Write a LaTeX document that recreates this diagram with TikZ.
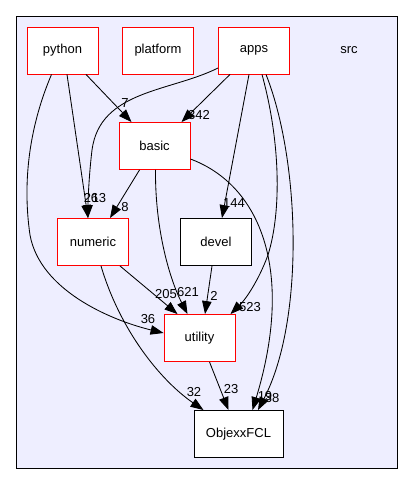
\documentclass[tikz,border=0pt]{standalone}
\usepackage{fontspec}
\setmainfont{Liberation Sans}
\usetikzlibrary{arrows.meta}
\begin{document}
\begin{tikzpicture}[x=1pt,y=-1pt,
  dir/.style={draw=red,fill=white,line width=0.9pt,minimum width=71pt,minimum height=47pt,inner sep=0pt,font=\fontsize{13}{15}\selectfont},
  leaf/.style={dir,draw=black},
  lbl/.style={inner sep=0pt,font=\fontsize{13}{15}\selectfont},
  edge/.style={line width=0.85pt,-{Triangle[length=13pt,width=9.5pt]}}]
\useasboundingbox (0,0) rectangle (413,485);
\draw[fill={rgb,255:red,238;green,238;blue,255},line width=1pt] (16,16) rectangle (397,468);
\node[lbl] (src) at (349,50) {src};
\node[dir] (python) at (62.5,50.5) {python};
\node[dir] (platform) at (158,50.5) {platform};
\node[dir] (apps) at (254,50.5) {apps};
\node[dir] (basic) at (154.5,146) {basic};
\node[dir] (numeric) at (93,242) {numeric};
\node[leaf] (devel) at (216,242) {devel};
\node[dir] (utility) at (199.5,338) {utility};
\node[leaf,minimum width=89pt] (obj) at (238.5,434) {ObjexxFCL};
% edges
\draw[edge] ([xshift=23.5pt]python.south) -- ([xshift=-23pt]basic.north);
\draw[edge] ([xshift=4.5pt]python.south) -- ([xshift=-5pt]numeric.north);
\draw[edge] ([xshift=-11pt]python.south) .. controls (30,125) and (22,180) .. (30,235) .. controls (40,290) and (110,320) .. ([yshift=5pt]utility.west);
\draw[edge] ([xshift=-24pt]apps.south) -- ([xshift=27pt]basic.north);
\draw[edge] ([yshift=-17.5pt]apps.west) .. controls (170,92) and (100,90) .. (92,150) .. controls (89,175) and (88,200) .. ([xshift=-5pt]numeric.north);
\draw[edge] ([xshift=-5pt]apps.south) -- ([xshift=6pt]devel.north);
\draw[edge] ([xshift=8pt]apps.south) .. controls (280,140) and (282,210) .. (268,255) .. controls (258,282) and (245,300) .. ([xshift=31pt]utility.north);
\draw[edge] ([xshift=12pt]apps.south) .. controls (300,160) and (305,320) .. ([xshift=19.5pt]obj.north);
\draw[edge] ([yshift=-13pt]basic.east) .. controls (260,185) and (295,270) .. ([xshift=14pt]obj.north);
\draw[edge] ([xshift=-15pt]basic.south) -- ([xshift=17pt]numeric.north);
\draw[edge] ([xshift=1pt]basic.south) .. controls (155,230) and (170,280) .. ([xshift=-12pt]utility.north);
\draw[edge] ([xshift=27pt]numeric.south) -- ([xshift=-22pt]utility.north);
\draw[edge] ([xshift=8pt]numeric.south) .. controls (120,330) and (160,380) .. ([xshift=-35pt]obj.north);
\draw[edge] ([xshift=-4pt]devel.south) -- ([xshift=5.5pt]utility.north);
\draw[edge] ([xshift=10pt]utility.south) -- ([xshift=-10pt]obj.north);
% labels
\node[lbl] (l7) at (125,103) {7};
\node[lbl] (l26) at (91,198) {26};
\node[lbl] (l13) at (99,198) {13};
\node[lbl] (l36) at (148,319) {36};
\node[lbl] (l342) at (199,115) {342};
\node[lbl] (l144) at (234,203) {144};
\node[lbl] (l523) at (250,307) {523};
\node[lbl] (l19) at (265,396) {19};
\node[lbl] (l38) at (272,398) {38};
\node[lbl] (l8) at (125,207) {8};
\node[lbl] (l621) at (188,292) {621};
\node[lbl] (l205) at (166,294) {205};
\node[lbl] (l32) at (194,392) {32};
\node[lbl] (l2) at (214,296) {2};
\node[lbl] (l23) at (231,389) {23};
\end{tikzpicture}
\end{document}
